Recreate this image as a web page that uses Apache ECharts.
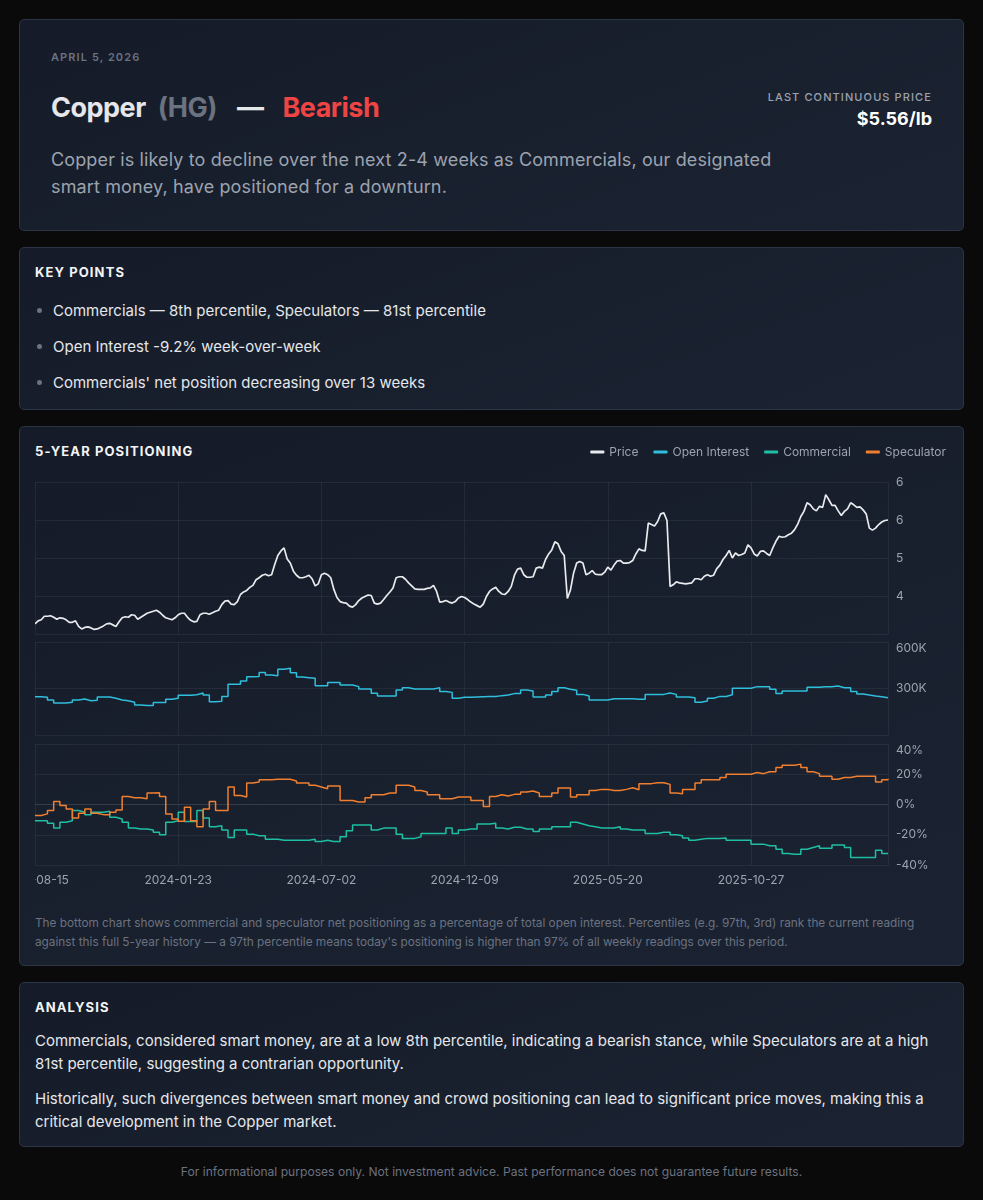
<!DOCTYPE html>
<html>
<head>
<meta charset="utf-8">
<title>Copper (HG) positioning</title>
<script src="https://cdn.jsdelivr.net/npm/echarts@6/dist/echarts.min.js"></script>
<style>
  html, body { margin: 0; padding: 0; background: #0a0a0b; }
  body { font-family: Inter, "Noto Sans", sans-serif; color: #e5e7eb; padding: 19px 19px 0 19px; width: 945px; }
  .card {
    background: linear-gradient(160deg, #151b28 0%, #1b2332 100%);
    border: 1px solid #2c3546;
    border-radius: 5px;
    margin-bottom: 16px;
    position: relative;
    box-sizing: border-box;
  }
  .hero { padding: 30px 31px 0 31px; height: 212px; }
  .date { font-size: 11px; letter-spacing: 1.1px; color: #6b7280; font-weight: 600; }
  .title { font-size: 27px; font-weight: 700; margin-top: 27px; letter-spacing: -0.5px; }
  .title .sym { color: #6b7280; margin-left: 12px; }
  .title .dash { margin: 0 19px 0 20px; }
  .title .bear { color: #ef4444; }
  .price-box { position: absolute; right: 31px; top: 70px; text-align: right; }
  .price-box .lbl { font-size: 11px; letter-spacing: 1.1px; color: #9ca3af; font-weight: 500; }
  .price-box .val { font-size: 18px; font-weight: 700; color: #fff; margin-top: 4px; }
  .desc { font-size: 18px; line-height: 27px; color: #9ca3af; margin-top: 22px; width: 760px; letter-spacing: 0.13px; }
  .sec { padding: 16px 15px; }
  .sec h3 { margin: 0; font-size: 13px; font-weight: 700; letter-spacing: 1.1px; color: #f3f4f6; }
  ul { list-style: none; padding: 0; margin: 21px 0 0 0; }
  li { font-size: 15px; color: #e5e7eb; height: 36px; line-height: 20px; position: relative; padding-left: 18px; }
  li::before { content: ""; position: absolute; left: 2px; top: 7px; width: 5px; height: 5px; border-radius: 50%; background: #6b7280; }
  .keypts { height: 163px; }
  .chartcard { height: 540px; }
  .chartcard h3 { position: absolute; left: 15px; top: 16px; }
  #chart { width: 911px; height: 464px; margin-top: -4px; }
  .note { font-size: 11.8px; line-height: 19px; color: #6b7280; margin-top: 11px; }
  .analysis { height: 165px; }
  .analysis p { font-size: 15px; line-height: 23px; color: #e5e7eb; margin: 14px 0 0 0; }
  .analysis p + p { margin-top: 12px; }
  .foot { text-align: center; font-size: 12.1px; color: #6b7280; margin-top: 17px; }
</style>
</head>
<body>
<div class="card hero">
  <div class="date">APRIL 5, 2026</div>
  <div class="title">Copper<span class="sym">(HG)</span><span class="dash">—</span><span class="bear">Bearish</span></div>
  <div class="price-box"><div class="lbl">LAST CONTINUOUS PRICE</div><div class="val">$5.56/lb</div></div>
  <div class="desc">Copper is likely to decline over the next 2-4 weeks as Commercials, our designated smart money, have positioned for a downturn.</div>
</div>

<div class="card sec keypts">
  <h3>KEY POINTS</h3>
  <ul>
    <li>Commercials — 8th percentile, Speculators — 81st percentile</li>
    <li>Open Interest -9.2% week-over-week</li>
    <li>Commercials' net position decreasing over 13 weeks</li>
  </ul>
</div>

<div class="card sec chartcard">
  <h3>5-YEAR POSITIONING</h3>
  <div id="chart"></div>
  <div class="note">The bottom chart shows commercial and speculator net positioning as a percentage of total open interest. Percentiles (e.g. 97th, 3rd) rank the current reading against this full 5-year history — a 97th percentile means today's positioning is higher than 97% of all weekly readings over this period.</div>
</div>

<div class="card sec analysis">
  <h3>ANALYSIS</h3>
  <p>Commercials, considered smart money, are at a low 8th percentile, indicating a bearish stance, while Speculators are at a high 81st percentile, suggesting a contrarian opportunity.</p>
  <p>Historically, such divergences between smart money and crowd positioning can lead to significant price moves, making this a critical development in the Copper market.</p>
</div>

<div class="foot">For informational purposes only. Not investment advice. Past performance does not guarantee future results.</div>

<script>
// weekly report dates
const dates = [
  "2023-08-15","2023-08-22","2023-08-29","2023-09-05","2023-09-12","2023-09-19","2023-09-26","2023-10-03","2023-10-10","2023-10-17",
  "2023-10-24","2023-10-31","2023-11-07","2023-11-14","2023-11-21","2023-11-28","2023-12-05","2023-12-12","2023-12-19","2023-12-26",
  "2024-01-02","2024-01-09","2024-01-16","2024-01-23","2024-01-30","2024-02-06","2024-02-13","2024-02-20","2024-02-27","2024-03-05",
  "2024-03-12","2024-03-19","2024-03-26","2024-04-02","2024-04-09","2024-04-16","2024-04-23","2024-04-30","2024-05-07","2024-05-14",
  "2024-05-21","2024-05-28","2024-06-04","2024-06-11","2024-06-18","2024-06-25","2024-07-02","2024-07-09","2024-07-16","2024-07-23",
  "2024-07-30","2024-08-06","2024-08-13","2024-08-20","2024-08-27","2024-09-03","2024-09-10","2024-09-17","2024-09-24","2024-10-01",
  "2024-10-08","2024-10-15","2024-10-22","2024-10-29","2024-11-05","2024-11-12","2024-11-19","2024-11-26","2024-12-03","2024-12-09",
  "2024-12-17","2024-12-24","2024-12-31","2025-01-07","2025-01-14","2025-01-21","2025-01-28","2025-02-04","2025-02-11","2025-02-18",
  "2025-02-25","2025-03-04","2025-03-11","2025-03-18","2025-03-25","2025-04-01","2025-04-08","2025-04-15","2025-04-22","2025-04-29",
  "2025-05-06","2025-05-13","2025-05-20","2025-05-27","2025-06-03","2025-06-10","2025-06-17","2025-06-24","2025-07-01","2025-07-08",
  "2025-07-15","2025-07-22","2025-07-29","2025-08-05","2025-08-12","2025-08-19","2025-08-26","2025-09-02","2025-09-09","2025-09-16",
  "2025-09-23","2025-09-30","2025-10-07","2025-10-14","2025-10-21","2025-10-27","2025-11-04","2025-11-11","2025-11-18","2025-11-25",
  "2025-12-02","2025-12-09","2025-12-16","2025-12-23","2025-12-30","2026-01-06","2026-01-13","2026-01-20","2026-01-27","2026-02-03",
  "2026-02-10","2026-02-17","2026-02-24","2026-03-03","2026-03-10","2026-03-17","2026-03-24","2026-03-31"
];

// $/lb, two closes per week (report day, then the Friday after it)
const price = [
  3.45,3.51, 3.53,3.60, 3.60,3.61, 3.58,3.54, 3.57,3.56, 3.53,3.48, 3.48,3.51, 3.40,3.35, 3.38,3.39, 3.37,3.34,
  3.35,3.38, 3.41,3.45, 3.46,3.43, 3.40,3.49, 3.57,3.59, 3.58,3.63, 3.62,3.54, 3.58,3.62, 3.66,3.68, 3.70,3.72,
  3.68,3.62, 3.57,3.55, 3.53,3.57, 3.63,3.66, 3.66,3.58, 3.52,3.49, 3.50,3.63, 3.66,3.66, 3.64,3.67, 3.70,3.72,
  3.83,3.90, 3.91,3.84, 3.83,3.89, 4.03,4.08, 4.11,4.17, 4.21,4.32, 4.36,4.41, 4.43,4.40, 4.42,4.62, 4.80,4.89,
  4.95,4.73, 4.65,4.49, 4.41,4.36, 4.36,4.38, 4.41,4.34, 4.20,4.24, 4.42,4.45, 4.42,4.36, 4.13,3.97, 3.89,3.87,
  3.86,3.80, 3.78,3.83, 3.91,3.96, 3.99,4.02, 4.01,3.86, 3.84,3.86, 3.93,4.01, 4.08,4.16, 4.36,4.38, 4.38,4.33,
  4.26,4.20, 4.14,4.13, 4.13,4.13, 4.15,4.16, 4.21,4.09, 3.88,3.89, 3.91,3.88, 3.86,3.89, 3.96,3.99, 3.97,3.93,
  3.88,3.84, 3.81,3.78, 3.84,3.99, 4.09,4.14, 4.17,4.09, 4.04,4.03, 4.09,4.19, 4.41,4.53, 4.55,4.42, 4.37,4.37,
  4.38,4.55, 4.57,4.55, 4.72,4.83, 4.91,5.07, 5.03,4.88, 4.80,3.95, 4.12,4.45, 4.65,4.68, 4.65,4.42, 4.45,4.50,
  4.43,4.42, 4.42,4.47, 4.57,4.51, 4.61,4.69, 4.70,4.65, 4.65,4.66, 4.70,4.83, 4.93,4.90, 4.89,5.44, 5.41,5.38,
  5.47,5.62, 5.64,5.49, 4.19,4.22, 4.28,4.26, 4.25,4.24, 4.25,4.26, 4.34,4.34, 4.32,4.39, 4.42,4.39, 4.41,4.54,
  4.61,4.72, 4.80,4.90, 4.75,4.85, 4.80,4.82, 4.85,5.01, 4.95,4.83, 4.79,4.88, 4.89,4.84, 4.80,4.95, 5.08,5.18,
  5.16,5.17, 5.21,5.24, 5.31,5.42, 5.57,5.67, 5.84,5.80, 5.72,5.68, 5.77,5.75, 6.00,5.90, 5.79,5.79, 5.68,5.59,
  5.67,5.72, 5.84,5.80, 5.75,5.76, 5.70,5.62, 5.34,5.30, 5.34,5.41, 5.46,5.49, 5.50
];

// contracts, thousands
const openInterest = [
  247,243,226,206,206,211,226,232,221,224,
  245,245,237,226,221,211,194,191,191,209,
  209,230,237,256,256,260,271,258,215,217,
  249,327,327,348,376,378,404,387,383,424,
  430,402,374,370,366,318,318,338,338,323,
  323,312,297,297,269,252,252,252,290,305,
  297,297,297,297,305,280,275,237,243,243,
  245,247,249,249,254,258,267,267,290,284,
  245,245,258,280,305,295,288,262,252,226,
  226,226,234,234,234,234,230,230,262,262,
  262,271,262,245,245,241,211,219,237,249,
  249,260,301,301,301,312,312,312,295,267,
  284,284,284,284,308,308,312,312,316,305,
  305,280,265,258,252,247,241,240
];

// net position, % of open interest
const commercial = [
  -10.7,-10.7,-12.4,-15.6,-11.8,-10.7,-4.0,-5.1,-6.7,-5.1,
  -5.1,-4.4,-8.4,-9.6,-11.8,-15.6,-16.2,-16.2,-16.9,-18.4,
  -20.0,-11.8,-10.7,-5.1,-11.3,-11.3,-4.0,-8.9,-14.7,-14.0,
  -16.9,-21.8,-16.9,-16.9,-19.6,-20.7,-20.7,-22.9,-22.9,-23.6,
  -23.6,-23.6,-23.6,-23.6,-22.9,-24.4,-23.6,-24.4,-24.4,-21.3,
  -17.3,-13.6,-13.6,-13.6,-16.9,-15.6,-15.6,-15.6,-19.6,-22.4,
  -22.4,-21.3,-19.1,-19.1,-19.1,-19.1,-15.6,-19.1,-16.9,-16.2,
  -16.2,-12.9,-12.9,-12.4,-15.6,-16.2,-15.1,-15.1,-16.2,-16.2,
  -17.8,-16.2,-16.2,-14.7,-14.7,-14.7,-11.8,-12.9,-14.0,-14.7,
  -15.6,-15.6,-15.6,-14.7,-16.2,-16.9,-16.9,-16.9,-19.1,-19.1,
  -18.4,-18.4,-20.0,-20.7,-22.2,-23.6,-22.9,-22.4,-22.4,-22.4,
  -22.2,-23.6,-23.6,-23.6,-23.6,-26.2,-26.2,-27.3,-27.3,-29.6,
  -32.4,-32.9,-32.9,-29.6,-28.4,-27.3,-28.9,-28.9,-26.7,-26.7,
  -28.4,-35.1,-35.1,-35.1,-35.1,-30.2,-32.4,-32.6
];

const speculator = [
  -7.3,-6.2,-4.0,2.0,-0.7,-2.9,-8.9,-5.8,-2.9,-5.8,
  -6.7,-6.7,-5.1,-3.6,5.3,4.4,4.4,3.8,7.6,7.8,
  5.3,-6.2,-9.6,-11.1,-1.8,-10.7,-14.7,-2.9,2.0,-4.0,
  -4.0,11.6,6.0,4.9,14.2,14.9,16.4,16.4,16.7,16.7,
  16.7,15.6,14.2,14.2,12.7,11.6,10.4,12.2,12.2,2.7,
  2.7,1.6,1.6,4.4,6.4,6.4,7.6,7.6,12.7,12.7,
  11.6,9.3,8.2,6.4,6.4,3.8,3.8,4.9,4.9,4.9,
  2.7,2.7,-1.3,5.3,6.4,5.6,6.7,6.7,8.2,8.9,
  7.6,5.3,5.3,7.6,10.9,10.9,4.9,6.4,6.4,9.3,
  10.0,10.0,9.3,9.3,10.0,11.1,9.8,13.8,13.8,14.4,
  14.4,13.3,7.6,7.1,10.0,10.0,14.2,16.4,16.4,16.4,
  17.8,20.0,20.0,20.0,20.0,21.1,20.4,21.6,21.6,24.4,
  26.0,26.0,26.7,24.4,21.6,20.4,18.7,18.7,16.7,17.8,
  17.8,18.7,18.7,18.7,18.7,14.9,16.4,17.0
];

const seriesNames = ["Price", "Open Interest", "Commercial", "Speculator"];
const colors = ["#e8eaee", "#2fbfdc", "#1fbfa3", "#f07f30"];

// price dates: each report day plus the Friday after it
function addDays(d, n) {
  const t = new Date(d + "T00:00:00Z");
  t.setUTCDate(t.getUTCDate() + n);
  return t.toISOString().slice(0, 10);
}
const priceDates = [];
dates.forEach((d, i) => {
  priceDates.push(d);
  if (i < dates.length - 1) priceDates.push(addDays(d, 3));
});

const chart = echarts.init(document.getElementById("chart"));

const gridLine = { show: true, lineStyle: { color: "rgba(255,255,255,0.06)" } };
const labelColor = "#9ca3af";
const font = "Inter, 'Noto Sans', sans-serif";

function xAxisFor(idx, cats, every, showLabels) {
  return {
    type: "category",
    gridIndex: idx,
    data: cats,
    boundaryGap: false,
    axisLine: { show: showLabels, lineStyle: { color: "rgba(255,255,255,0.08)" } },
    axisTick: { show: false },
    axisLabel: { show: showLabels, interval: every, color: labelColor, fontSize: 12, fontFamily: font, margin: 9 },
    splitLine: { show: true, interval: every, lineStyle: { color: "rgba(255,255,255,0.06)" } },
  };
}

function yAxisFor(idx, extra) {
  return Object.assign({
    type: "value",
    gridIndex: idx,
    position: "right",
    axisLine: { show: true, lineStyle: { color: "rgba(255,255,255,0.06)" } },
    axisTick: { show: false },
    splitLine: gridLine,
  }, extra);
}

const option = {
  backgroundColor: "transparent",
  animation: false,
  color: colors,
  legend: {
    data: seriesNames,
    right: -5,
    top: 2,
    icon: "roundRect",
    itemWidth: 14,
    itemHeight: 3,
    itemGap: 15,
    textStyle: { color: labelColor, fontSize: 12, fontFamily: font },
  },
  grid: [
    { left: 0, right: 58, top: 43, height: 152, outerBoundsMode: "none", containLabel: false },
    { left: 0, right: 58, top: 203, height: 93, outerBoundsMode: "none", containLabel: false },
    { left: 0, right: 58, top: 305, height: 121, outerBoundsMode: "none", containLabel: false },
  ],
  xAxis: [
    xAxisFor(0, priceDates, 45, false),
    xAxisFor(1, dates, 22, false),
    xAxisFor(2, dates, 22, true),
  ],
  yAxis: [
    yAxisFor(0, {
      min: 3.25, max: 6.25, interval: 0.75,
      axisLabel: { color: labelColor, fontSize: 12, fontFamily: font, margin: 8, showMinLabel: false,
        formatter: (v) => String(Math.round(v)) },
    }),
    yAxisFor(1, {
      min: 0, max: 600, interval: 300,
      axisLabel: { color: labelColor, fontSize: 12, fontFamily: font, margin: 8, showMinLabel: false,
        verticalAlignMaxLabel: "top", formatter: (v) => v + "K" },
    }),
    yAxisFor(2, {
      min: -40, max: 40, interval: 20,
      axisLabel: { color: labelColor, fontSize: 12, fontFamily: font, margin: 8,
        verticalAlignMaxLabel: "top", formatter: (v) => v + "%" },
    }),
  ],
  series: [
    { name: "Price", type: "line", xAxisIndex: 0, yAxisIndex: 0, data: price,
      showSymbol: false, lineStyle: { width: 1.7, color: colors[0] } },
    { name: "Open Interest", type: "line", xAxisIndex: 1, yAxisIndex: 1, data: openInterest,
      step: "end", showSymbol: false, lineStyle: { width: 1.5, color: colors[1] } },
    { name: "Commercial", type: "line", xAxisIndex: 2, yAxisIndex: 2, data: commercial,
      step: "end", showSymbol: false, lineStyle: { width: 1.5, color: colors[2] } },
    { name: "Speculator", type: "line", xAxisIndex: 2, yAxisIndex: 2, data: speculator,
      step: "end", showSymbol: false, lineStyle: { width: 1.5, color: colors[3] } },
  ],
};

chart.setOption(option);
window.addEventListener("resize", () => chart.resize());
</script>
</body>
</html>
